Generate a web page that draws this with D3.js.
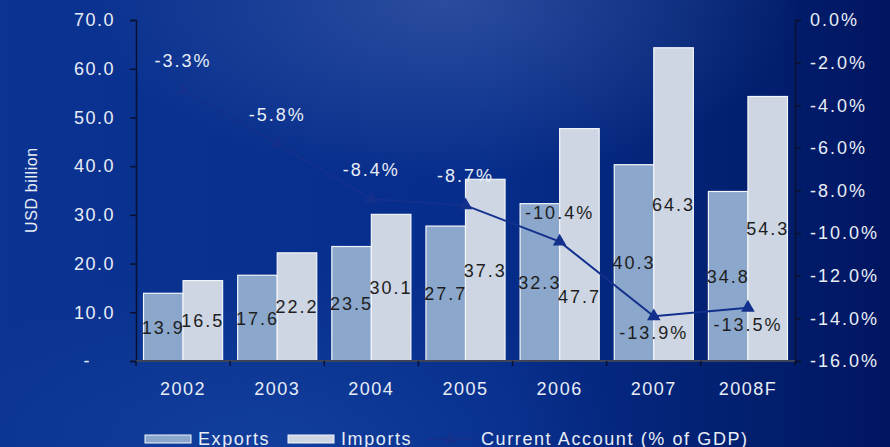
<!DOCTYPE html>
<html>
<head>
<meta charset="utf-8">
<script src="https://cdn.jsdelivr.net/npm/d3@7"></script>
<style>
    html, body { margin: 0; padding: 0; background: #0a2f8e; }
    #chart { width: 890px; height: 447px; overflow: hidden; }
    text { font-family: "Liberation Sans", Arial, sans-serif; }
</style>
</head>
<body>
<div id="chart"></div>
<script>
// data
const years = ["2002", "2003", "2004", "2005", "2006", "2007", "2008F"];
const exportsData = [13.9, 17.6, 23.5, 27.7, 32.3, 40.3, 34.8];
const importsData = [16.5, 22.2, 30.1, 37.3, 47.7, 64.3, 54.3];
const currentAccount = [-3.3, -5.8, -8.4, -8.7, -10.4, -13.9, -13.5];
const labelBelow = ["2007", "2008F"]; // these two labels sit under the point
const leftTicks = [0, 10, 20, 30, 40, 50, 60, 70];
const rightTicks = [0, -2, -4, -6, -8, -10, -12, -14, -16];
const legendNames = ["Exports", "Imports", "Current Account (% of GDP)"];

function init() {
    const w = 890;
    const h = 447;
    const margin = { top: 20, right: 95, bottom: 86, left: 136 };

    const exportColor = "#8ba7cb";
    const importColor = "#cdd6e2";
    const lineColor = "#13308c";
    const lightText = "#e8edf6";
    const darkText = "#1e1e22";

    // the 2006 imports label was dragged down in the original, off the line
    const importLabelShift = { "2006": 52 };

    const fmt = v => v.toFixed(1); // plain hyphen minus, like the original

    let svg = d3.select("#chart")
        .append("svg")
        .attr("width", w)
        .attr("height", h);

    // background gradients
    const defs = svg.append("defs");
    const bg = defs.append("linearGradient")
        .attr("id", "bg")
        .attr("x1", "0%").attr("x2", "100%")
        .attr("y1", "0%").attr("y2", "0%");
    bg.append("stop").attr("offset", "0%").attr("stop-color", "#0b3391");
    bg.append("stop").attr("offset", "55%").attr("stop-color", "#062d8b");
    bg.append("stop").attr("offset", "85%").attr("stop-color", "#021f6e");
    bg.append("stop").attr("offset", "100%").attr("stop-color", "#011561");

    const glow = defs.append("radialGradient")
        .attr("id", "glow")
        .attr("cx", "50%").attr("cy", "0%")
        .attr("r", "40%");
    glow.append("stop").attr("offset", "0%").attr("stop-color", "#3a5aa6").attr("stop-opacity", 0.7);
    glow.append("stop").attr("offset", "100%").attr("stop-color", "#3a5aa6").attr("stop-opacity", 0);

    const glow2 = defs.append("radialGradient")
        .attr("id", "glow2")
        .attr("cx", "30%").attr("cy", "100%")
        .attr("r", "40%");
    glow2.append("stop").attr("offset", "0%").attr("stop-color", "#1848a6").attr("stop-opacity", 0.6);
    glow2.append("stop").attr("offset", "100%").attr("stop-color", "#1848a6").attr("stop-opacity", 0);

    svg.append("rect").attr("width", w).attr("height", h).attr("fill", "url(#bg)");
    svg.append("rect").attr("width", w).attr("height", h).attr("fill", "url(#glow)");
    svg.append("rect").attr("width", w).attr("height", h).attr("fill", "url(#glow2)");

    // scales
    let x = d3.scaleBand()
        .domain(years)
        .range([margin.left, w - margin.right])
        .paddingInner(0.16)
        .paddingOuter(0.08);

    let xSub = d3.scaleBand()
        .domain(["exports", "imports"])
        .range([0, x.bandwidth()]);

    let y = d3.scaleLinear()
        .domain([0, 70])
        .range([h - margin.bottom, margin.top]);

    let y2 = d3.scaleLinear()
        .domain([-16, 0])
        .range([h - margin.bottom, margin.top]);

    const step = x.step();
    const xCenter = d => x(d) + x.bandwidth() / 2;

    // bars
    const rows = years.map((yr, i) => ({ year: yr, exports: exportsData[i], imports: importsData[i] }));
    const pairs = d => [
        { year: d.year, key: "exports", value: d.exports },
        { year: d.year, key: "imports", value: d.imports }
    ];

    const groups = svg.selectAll(".group")
        .data(rows)
        .enter()
        .append("g")
        .attr("class", "group")
        .attr("transform", d => "translate(" + x(d.year) + ",0)");

    groups.selectAll("rect")
        .data(pairs)
        .enter()
        .append("rect")
        .attr("x", d => xSub(d.key))
        .attr("y", d => y(d.value))
        .attr("width", xSub.bandwidth())
        .attr("height", d => y(0) - y(d.value))
        .attr("fill", d => d.key === "exports" ? exportColor : importColor)
        .attr("stroke", "#f2f5fa")
        .attr("stroke-width", 1.2);

    groups.selectAll(".barlabel")
        .data(pairs)
        .enter()
        .append("text")
        .attr("class", "barlabel")
        .attr("x", d => xSub(d.key) + xSub.bandwidth() / 2)
        .attr("y", d => {
            let cy = (y(d.value) + y(0)) / 2;
            if (d.key === "imports" && importLabelShift[d.year]) cy += importLabelShift[d.year];
            return cy;
        })
        .attr("dy", "0.36em")
        .attr("text-anchor", "middle")
        .attr("font-size", 18)
        .attr("letter-spacing", 2)
        .attr("fill", darkText)
        .text(d => fmt(d.value));

    // left axis
    const leftAxis = svg.append("g")
        .attr("transform", "translate(" + margin.left + ",0)")
        .call(d3.axisLeft(y)
            .tickValues(leftTicks)
            .tickSize(6)
            .tickPadding(15)
            .tickFormat(d => d === 0 ? "-" : fmt(d)));
    leftAxis.select(".domain").attr("stroke", "#0a1030").attr("stroke-width", 1.5);
    leftAxis.selectAll(".tick line").attr("stroke", "#0a1030").attr("stroke-width", 1.5);
    leftAxis.selectAll(".tick text")
        .attr("font-size", 18)
        .attr("font-family", "Liberation Sans")
        .attr("letter-spacing", 1.5)
        .attr("fill", lightText)
        .attr("dx", d => d === 0 ? -24 : 0);

    // right axis
    const rightAxis = svg.append("g")
        .attr("transform", "translate(" + (w - margin.right) + ",0)")
        .call(d3.axisRight(y2)
            .tickValues(rightTicks)
            .tickSize(6)
            .tickPadding(9)
            .tickFormat(d => fmt(d) + "%"));
    rightAxis.select(".domain").attr("stroke", "#0a1030").attr("stroke-width", 1.5);
    rightAxis.selectAll(".tick line").attr("stroke", "#0a1030").attr("stroke-width", 1.5);
    rightAxis.selectAll(".tick text")
        .attr("font-size", 18)
        .attr("font-family", "Liberation Sans")
        .attr("letter-spacing", 2)
        .attr("fill", lightText);

    // bottom axis: line, boundary ticks, year labels
    const base = y(0);
    svg.append("line")
        .attr("x1", margin.left).attr("x2", w - margin.right)
        .attr("y1", base).attr("y2", base)
        .attr("stroke", "#3c4356")
        .attr("stroke-width", 2);

    svg.selectAll(".xtick")
        .data(years.concat(["end"]))
        .enter()
        .append("line")
        .attr("class", "xtick")
        .attr("x1", (d, i) => margin.left + i * step)
        .attr("x2", (d, i) => margin.left + i * step)
        .attr("y1", base)
        .attr("y2", base + 5)
        .attr("stroke", "#0a1030")
        .attr("stroke-width", 1.5);

    svg.selectAll(".year")
        .data(years)
        .enter()
        .append("text")
        .attr("class", "year")
        .attr("x", d => xCenter(d))
        .attr("y", base + 34)
        .attr("text-anchor", "middle")
        .attr("font-size", 18)
        .attr("letter-spacing", 1.5)
        .attr("fill", lightText)
        .text(d => d);

    // y title
    svg.append("text")
        .attr("transform", "translate(37," + 190 + ") rotate(-90)")
        .attr("text-anchor", "middle")
        .attr("font-size", 16)
        .attr("letter-spacing", 0.6)
        .attr("fill", lightText)
        .text("USD billion");

    // current account line
    const pts = years.map((yr, i) => ({ year: yr, value: currentAccount[i] }));
    const line = d3.line()
        .x(d => xCenter(d.year))
        .y(d => y2(d.value));

    svg.append("path")
        .datum(pts)
        .attr("d", line)
        .attr("fill", "none")
        .attr("stroke", lineColor)
        .attr("stroke-width", 2);

    const tri = d3.symbol().type(d3.symbolTriangle).size(80);
    svg.selectAll(".marker")
        .data(pts)
        .enter()
        .append("path")
        .attr("class", "marker")
        .attr("d", tri)
        .attr("transform", d => "translate(" + xCenter(d.year) + "," + y2(d.value) + ")")
        .attr("fill", lineColor);

    svg.selectAll(".calabel")
        .data(pts)
        .enter()
        .append("text")
        .attr("class", "calabel")
        .attr("x", d => xCenter(d.year))
        .attr("y", d => labelBelow.includes(d.year) ? y2(d.value) + 23 : y2(d.value) - 23)
        .attr("text-anchor", "middle")
        .attr("font-size", 18)
        .attr("letter-spacing", 2)
        .attr("fill", (d, i) => {
            const ly = labelBelow.includes(d.year) ? y2(d.value) + 17 : y2(d.value) - 29;
            const top = y(Math.max(exportsData[i], importsData[i]));
            return ly > top ? darkText : lightText;
        })
        .text(d => fmt(d.value) + "%");

    // legend
    const legend = svg.append("g").attr("transform", "translate(0," + 439 + ")");
    const legendX = [145, 288, 427];
    const legendTextX = [198, 341, 481];

    legend.selectAll(".swatch")
        .data([exportColor, importColor])
        .enter()
        .append("rect")
        .attr("class", "swatch")
        .attr("x", (d, i) => legendX[i])
        .attr("y", -4)
        .attr("width", 46)
        .attr("height", 8)
        .attr("fill", d => d)
        .attr("stroke", "#f2f5fa")
        .attr("stroke-width", 1);

    legend.append("line")
        .attr("x1", legendX[2]).attr("x2", legendX[2] + 47)
        .attr("y1", 0).attr("y2", 0)
        .attr("stroke", lineColor)
        .attr("stroke-width", 2);
    legend.append("path")
        .attr("d", tri)
        .attr("transform", "translate(" + (legendX[2] + 23) + ",0)")
        .attr("fill", lineColor);

    legend.selectAll(".legtext")
        .data(legendNames)
        .enter()
        .append("text")
        .attr("class", "legtext")
        .attr("x", (d, i) => legendTextX[i])
        .attr("y", 6)
        .attr("font-size", 18)
        .attr("letter-spacing", 1.6)
        .attr("fill", lightText)
        .text(d => d);
}

window.addEventListener('load', init);
</script>
</body>
</html>
